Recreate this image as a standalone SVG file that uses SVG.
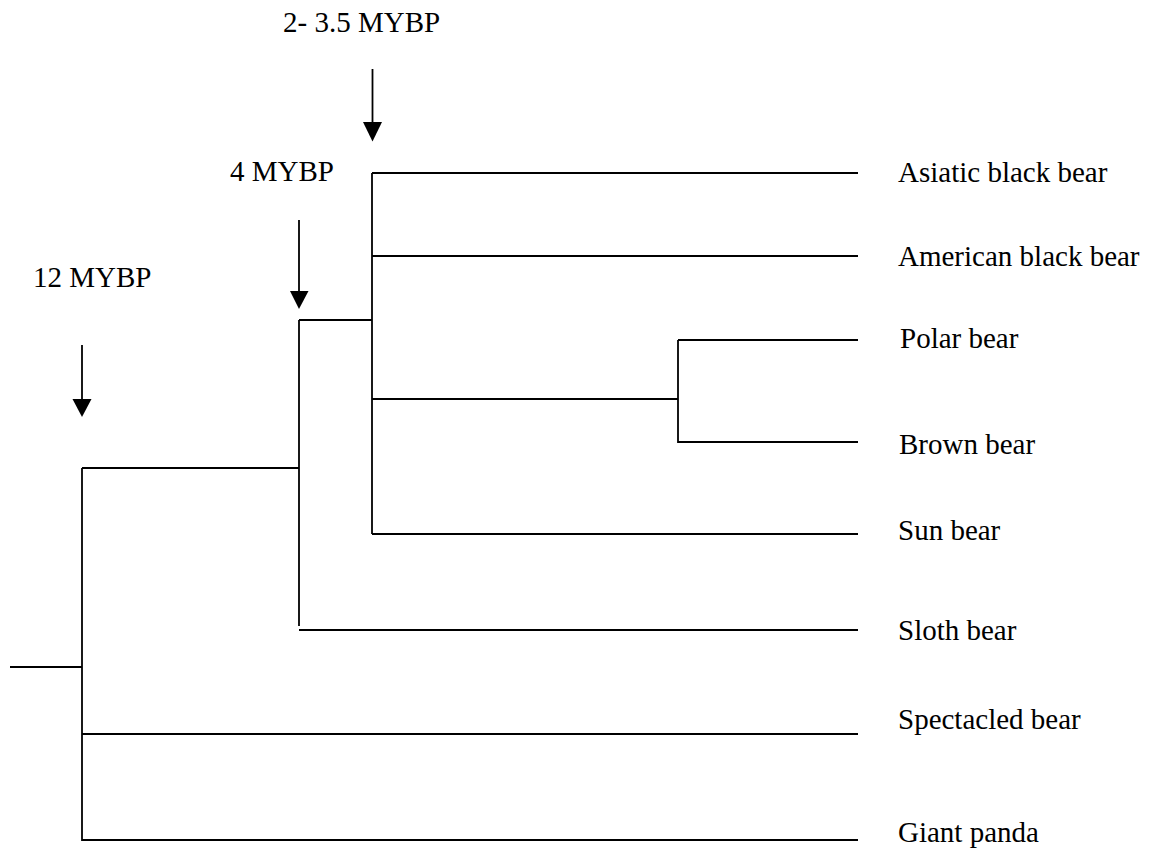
<svg xmlns="http://www.w3.org/2000/svg" width="1157" height="852" viewBox="0 0 1157 852">
<style>
text{font-family:"Liberation Serif","Times New Roman",serif;font-size:29px;fill:#000}
.ln{stroke:#000;stroke-width:1.8;fill:none}
.hd{fill:#000}
</style>
<rect width="1157" height="852" fill="#fff"/>
<g id="connectors">
<line class="ln" x1="10" y1="667" x2="82" y2="667"/>
<line class="ln" x1="82" y1="468" x2="82" y2="841"/>
<line class="ln" x1="82" y1="468" x2="299" y2="468"/>
<line class="ln" x1="82" y1="734" x2="858" y2="734"/>
<line class="ln" x1="82" y1="840" x2="858" y2="840"/>
<line class="ln" x1="299" y1="320" x2="299" y2="626"/>
<line class="ln" x1="299" y1="320" x2="372" y2="320"/>
<line class="ln" x1="299" y1="630" x2="858" y2="630"/>
<line class="ln" x1="372" y1="173" x2="372" y2="534"/>
<line class="ln" x1="372" y1="173" x2="858" y2="173"/>
<line class="ln" x1="372" y1="256" x2="858" y2="256"/>
<line class="ln" x1="372" y1="399" x2="678" y2="399"/>
<line class="ln" x1="372" y1="534" x2="858" y2="534"/>
<line class="ln" x1="678" y1="340" x2="678" y2="443"/>
<line class="ln" x1="678" y1="340" x2="858" y2="340"/>
<line class="ln" x1="678" y1="442" x2="858" y2="442"/>
</g>
<g id="arrow-35">
<line class="ln" x1="372.5" y1="69" x2="372.5" y2="124"/>
<polygon class="hd" points="363,122 382,122 372.5,141.5"/>
<text x="283" y="32">2- 3.5 MYBP</text>
</g>
<g id="arrow-4">
<line class="ln" x1="299" y1="220" x2="299" y2="293"/>
<polygon class="hd" points="290,291 308.5,291 299,309"/>
<text x="230" y="181">4 MYBP</text>
</g>
<g id="arrow-12">
<line class="ln" x1="82" y1="345" x2="82" y2="401"/>
<polygon class="hd" points="72.5,399 91.5,399 82,417"/>
<text x="33" y="287">12 MYBP</text>
</g>
<g id="asiatic"><text x="898" y="182">Asiatic black bear</text></g>
<g id="american"><text x="898" y="266">American black bear</text></g>
<g id="polar"><text x="900" y="348">Polar bear</text></g>
<g id="brown"><text x="899" y="454">Brown bear</text></g>
<g id="sun"><text x="898" y="540">Sun bear</text></g>
<g id="sloth"><text x="898" y="640">Sloth bear</text></g>
<g id="spectacled"><text x="898" y="729">Spectacled bear</text></g>
<g id="panda"><text x="898" y="842">Giant panda</text></g>
</svg>
